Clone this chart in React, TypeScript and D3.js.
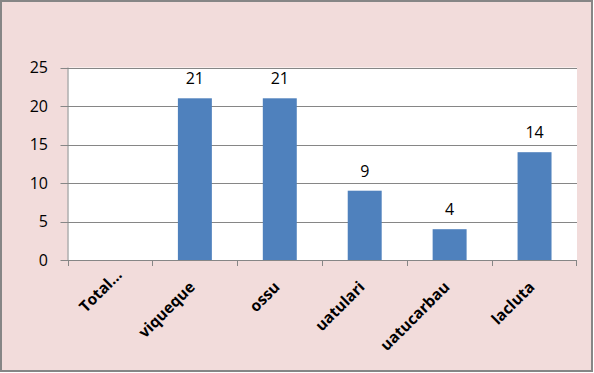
import React from "react";
import * as d3 from "d3";

const categories = ["Total...", "viqueque", "ossu", "uatulari", "uatucarbau", "lacluta"];
const values: (number | null)[] = [null, 21, 21, 9, 4, 14];
const yTicks = [0, 5, 10, 15, 20, 25];

const W = 594, H = 373;
const M = { left: 67.5, right: 577, top: 67.5, bottom: 260 };
const FONT = "'Open Sans', 'DejaVu Sans', sans-serif";

export default function App() {
  const x = d3.scaleBand<string>().domain(categories).range([M.left, M.right]).paddingInner(0.6).paddingOuter(0.3);
  const xb = d3.scaleBand<string>().domain(categories).range([M.left, M.right]);
  const y = d3.scaleLinear().domain([0, 25]).range([M.bottom, M.top]);
  const grey = "#868686";
  return (
    <div style={{ position: "fixed", left: 0, top: 0 }}>
      <svg width={W} height={H} style={{ display: "block" }}>
        <rect x={1} y={1} width={W - 3} height={H - 3} fill="#F2DCDB" stroke={grey} strokeWidth={2} />
        <rect x={M.left} y={M.top} width={M.right - M.left} height={M.bottom - M.top} fill="#fff" />
        {yTicks.map((t) => (
          <g key={t}>
            <line x1={M.left - 7} x2={M.right} y1={Math.round(y(t)) + 0.5} y2={Math.round(y(t)) + 0.5} stroke={grey} strokeWidth={1} />
            <text x={48} y={y(t)} dy="0.36em" textAnchor="end" fontFamily={FONT} fontSize={16} fill="#000">{t}</text>
          </g>
        ))}
        <line x1={M.left + 0.5} x2={M.left + 0.5} y1={M.top} y2={M.bottom} stroke={grey} />
        {categories.map((c, i) => (
          <line key={"t" + i} x1={Math.round(xb(c)!) + 0.5} x2={Math.round(xb(c)!) + 0.5} y1={M.bottom} y2={M.bottom + 6} stroke={grey} />
        ))}
        <line x1={Math.round(M.right) - 0.5} x2={Math.round(M.right) - 0.5} y1={M.bottom} y2={M.bottom + 6} stroke={grey} />
        {categories.map((c, i) => {
          const v = values[i];
          if (v == null) return null;
          return (
            <g key={"b" + i}>
              <rect x={x(c)} y={y(v)} width={x.bandwidth()} height={y(0) - y(v)} fill="#4F81BD" />
              <text x={x(c)! + x.bandwidth() / 2} y={y(v) - 14} textAnchor="middle" fontFamily={FONT} fontSize={16} fill="#000">{v}</text>
            </g>
          );
        })}
        {categories.map((c, i) => {
          const shift = i === 0 ? 17 : 0;
          const cx = xb(c)! + xb.bandwidth() / 2 + 1;
          const cy = 288;
          return (
            <text key={"l" + i} x={cx} y={cy} dx={shift} transform={`rotate(-45 ${cx} ${cy})`} textAnchor="end" fontFamily={FONT} fontSize={15.5} fontWeight="bold" fill="#000">{c}</text>
          );
        })}
      </svg>
    </div>
  );
}
